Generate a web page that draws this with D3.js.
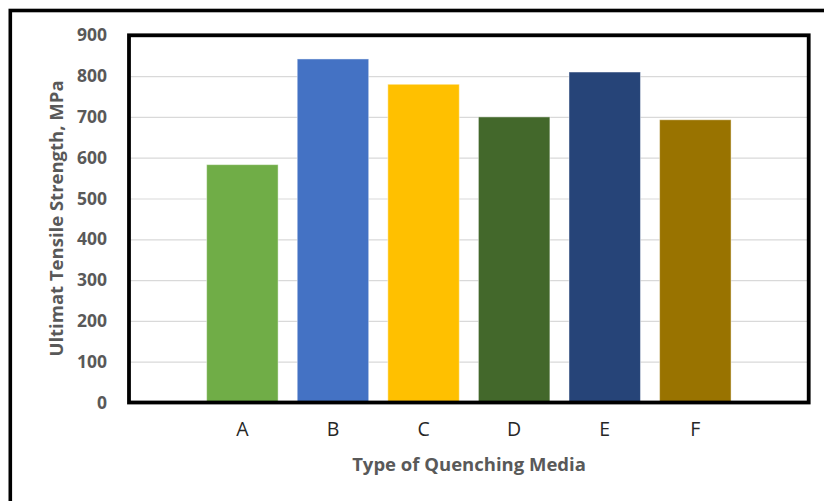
<!DOCTYPE html>
<html>
<head>
<meta charset="utf-8">
<script src="https://cdn.jsdelivr.net/npm/d3@7"></script>
<style>
  html, body { margin: 0; padding: 0; background: #fff; }
  svg { display: block; }
</style>
</head>
<body>
<svg id="chart" width="824" height="501"></svg>
<script>
// Quenching media and their ultimate tensile strength (MPa)
const categories = ["A", "B", "C", "D", "E", "F"];
const strengthValues = [583, 842, 780, 700, 810, 693];
const barColors = ["#70AD47", "#4472C4", "#FFC000", "#43682B", "#264478", "#997300"];
const yTicks = [0, 100, 200, 300, 400, 500, 600, 700, 800, 900];
const yTitle = "Ultimat Tensile Strength, MPa";
const xTitle = "Type of Quenching Media";

const svg = d3.select("#chart");
const plot = { left: 129, right: 808.7, top: 35.3, bottom: 402.5 };

const x = d3.scaleBand()
  .domain(categories)
  .range([plot.left, plot.right])
  .paddingInner(0.211)
  .paddingOuter(0.857);

const y = d3.scaleLinear()
  .domain([0, 900])
  .range([plot.bottom, plot.top]);

// Outer frame running off the right and bottom edges
svg.append("rect")
  .attr("x", 10.3).attr("y", 10.5)
  .attr("width", 900).attr("height", 600)
  .attr("fill", "none")
  .attr("stroke", "#000")
  .attr("stroke-width", 3.6);

// Horizontal gridlines with value labels
const yAxis = d3.axisLeft(y)
  .tickValues(yTicks)
  .tickSize(-(plot.right - plot.left))
  .tickPadding(22)
  .tickFormat(d3.format("d"));

const gY = svg.append("g")
  .attr("transform", `translate(${plot.left},0)`)
  .call(yAxis);
gY.select(".domain").remove();
gY.selectAll(".tick line")
  .attr("stroke", "#d9d9d9")
  .attr("stroke-width", 1.2);
gY.selectAll(".tick text")
  .attr("fill", "#595959")
  .style("font-family", "'Open Sans', sans-serif")
  .style("font-weight", "700")
  .style("font-size", "17.5px");

// Bars
svg.append("g")
  .selectAll("rect")
  .data(categories)
  .join("rect")
  .attr("x", d => x(d))
  .attr("width", x.bandwidth())
  .attr("y", (d, i) => y(strengthValues[i]))
  .attr("height", (d, i) => y(0) - y(strengthValues[i]))
  .attr("fill", (d, i) => barColors[i])
  .attr("stroke", "#ffffff")
  .attr("stroke-opacity", 0.45)
  .attr("stroke-width", 1);

// Category axis
const xAxis = d3.axisBottom(x).tickSize(0).tickPadding(20);
const gX = svg.append("g")
  .attr("transform", `translate(0,${plot.bottom})`)
  .call(xAxis);
gX.select(".domain").remove();
gX.selectAll(".tick text")
  .attr("fill", "#262626")
  .style("font-family", "'Open Sans', sans-serif")
  .style("font-size", "19.5px");

// Plot area border
svg.append("rect")
  .attr("x", plot.left).attr("y", plot.top)
  .attr("width", plot.right - plot.left)
  .attr("height", plot.bottom - plot.top)
  .attr("fill", "none")
  .attr("stroke", "#000")
  .attr("stroke-width", 3.8);

// Axis titles
svg.append("text")
  .attr("transform", `translate(55.5,${(77 + 360) / 2}) rotate(-90)`)
  .attr("text-anchor", "middle")
  .attr("dominant-baseline", "central")
  .attr("fill", "#595959")
  .style("font-family", "'Open Sans', sans-serif")
  .style("font-weight", "700")
  .style("font-size", "18.5px")
  .text(yTitle);

svg.append("text")
  .attr("x", 469)
  .attr("y", 463)
  .attr("text-anchor", "middle")
  .attr("dominant-baseline", "central")
  .attr("fill", "#595959")
  .style("font-family", "'Open Sans', sans-serif")
  .style("font-weight", "700")
  .style("font-size", "18.5px")
  .text(xTitle);
</script>
</body>
</html>
